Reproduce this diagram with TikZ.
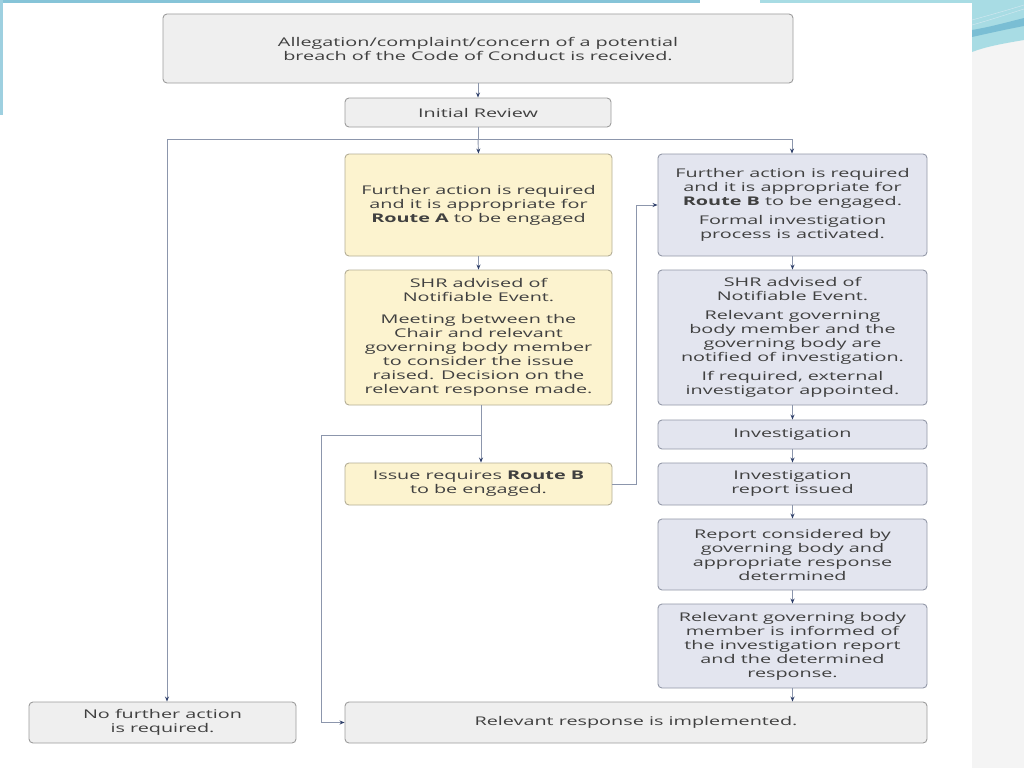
\documentclass[tikz,border=0pt]{standalone}
\usepackage{fontspec}
\setmainfont[FakeStretch=1.65]{Open Sans}
\usetikzlibrary{arrows.meta}
\definecolor{txt}{HTML}{404040}
\definecolor{gfill}{HTML}{EFEFEF}
\definecolor{gline}{HTML}{9C9C9C}
\definecolor{yfill}{HTML}{FCF3CF}
\definecolor{yline}{HTML}{B4AE96}
\definecolor{bfill}{HTML}{E3E5EF}
\definecolor{bline}{HTML}{9398A8}
\definecolor{conn}{HTML}{8C96AC}
\definecolor{tip}{HTML}{2E3F6A}
\definecolor{band}{HTML}{86C4D8}
\definecolor{bandl}{HTML}{A8DCE4}
\definecolor{strip}{HTML}{F4F4F4}
\tikzset{
  box/.style={draw, rounded corners=4pt, line width=0.9pt, text=txt, align=center,
    font=\fontsize{12}{14}\selectfont, inner sep=2pt},
  gbox/.style={box, fill=gfill, draw=gline},
  ybox/.style={box, fill=yfill, draw=yline},
  bbox/.style={box, fill=bfill, draw=bline},
  cline/.style={draw=conn, line width=0.9pt},
  arr/.style={cline, -{Stealth[length=5pt,width=4pt,color=tip]}}
}
\begin{document}
\begin{tikzpicture}[x=1pt,y=-1pt]
\useasboundingbox (0,0) rectangle (1024,768);
% background decoration
\fill[white] (0,0) rectangle (1024,768);
\fill[strip] (972,0) rectangle (1024,768);
\fill[band] (0,0) rectangle (700,3);
\fill[bandl] (760,0) rectangle (972,3);
\fill[band!80] (0,0) rectangle (3,115);
\fill[bandl] (972,0) -- (1024,0) -- (1024,40) .. controls (1000,44) and (985,47) .. (972,52) -- cycle;
\fill[band!110] (972,30) .. controls (990,27) and (1008,22) .. (1024,18) -- (1024,26) .. controls (1008,29) and (990,33) .. (972,37) -- cycle;
\draw[white!60!band, line width=0.5pt] (972,20) .. controls (990,15) and (1008,10) .. (1024,5);
\draw[white!60!band, line width=0.5pt] (972,25) .. controls (990,20) and (1008,14) .. (1024,9);

% nodes
\node[gbox, minimum width=630pt, minimum height=69pt] (top) at (478,48.5)
  {Allegation/complaint/concern of a potential\\breach of the Code of Conduct is received.};
\node[gbox, minimum width=266pt, minimum height=29pt] (ir) at (478,112.5) {Initial Review};

\node[ybox, minimum width=267pt, minimum height=102pt] (ra) at (478.5,205)
  {Further action is required\\and it is appropriate for\\\textbf{Route A} to be engaged};
\node[ybox, minimum width=267pt, minimum height=135pt] (shra) at (478.5,337.5)
  {SHR advised of\\Notifiable Event.\\[8pt]Meeting between the\\Chair and relevant\\governing body member\\to consider the issue\\raised. Decision on the\\relevant response made.};
\node[ybox, minimum width=267pt, minimum height=42pt] (iss) at (478.5,484)
  {Issue requires \textbf{Route B}\\to be engaged.};

\node[bbox, minimum width=269pt, minimum height=102pt] (rb) at (792.5,205)
  {Further action is required\\and it is appropriate for\\\textbf{Route B} to be engaged.\\[5pt]Formal investigation\\process is activated.};
\node[bbox, minimum width=269pt, minimum height=135pt] (shrb) at (792.5,337.5)
  {SHR advised of\\Notifiable Event.\\[5pt]Relevant governing\\body member and the\\governing body are\\notified of investigation.\\[5pt]If required, external\\investigator appointed.};
\node[bbox, minimum width=269pt, minimum height=29pt] (inv) at (792.5,434.5) {Investigation};
\node[bbox, minimum width=269pt, minimum height=42pt] (irep) at (792.5,484)
  {Investigation\\report issued};
\node[bbox, minimum width=269pt, minimum height=71pt] (rc) at (792.5,554.5)
  {Report considered by\\governing body and\\appropriate response\\determined};
\node[bbox, minimum width=269pt, minimum height=84pt] (rg) at (792.5,646)
  {Relevant governing body\\member is informed of\\the investigation report\\and the determined\\response.};

\node[gbox, minimum width=582pt, minimum height=41pt] (rr) at (636,722.5)
  {Relevant response is implemented.};
\node[gbox, minimum width=267pt, minimum height=41pt] (nfa) at (162.5,722.5)
  {No further action\\is required.};

% connectors
\coordinate (split) at (478,139);
\coordinate (lft) at (167,139);
\coordinate (rgt) at (792,139);
\draw[arr] (top) -- (ir);
\draw[cline] (ir.south) -- (split);
\draw[arr] (split) -- (ra.north);
\draw[arr] (split) -- (lft) -- (lft |- nfa.north);
\draw[arr] (split) -- (rgt) -- (rgt |- rb.north);
\draw[arr] (ra) -- (shra);
\coordinate (br) at (481,435);
\coordinate (bl) at (321,435);
\draw[arr] (shra.south -| br) -- (br |- iss.north);
\draw[arr] (br) -- (bl) |- (rr.west);
\coordinate (jog) at (636,300);
\draw[arr] (iss.east) -| (jog) |- (rb.west);
\draw[arr] (rb) -- (shrb);
\draw[arr] (shrb) -- (inv);
\draw[arr] (inv) -- (irep);
\draw[arr] (irep) -- (rc);
\draw[arr] (rc) -- (rg);
\draw[arr] (rg.south) -- (rg.south |- rr.north);
\end{tikzpicture}
\end{document}
